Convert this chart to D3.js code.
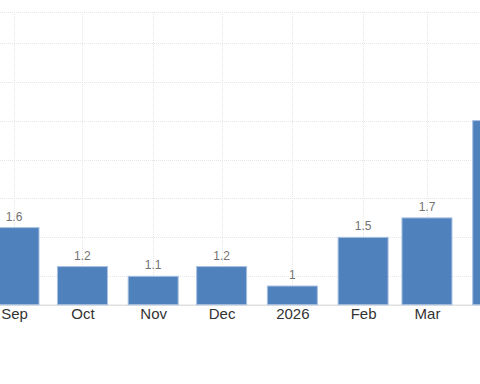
<!DOCTYPE html>
<html>
<head>
<meta charset="utf-8">
<script src="https://cdn.jsdelivr.net/npm/d3@7"></script>
<style>
  html, body { margin: 0; padding: 0; background: #fff; }
  svg { display: block; }
</style>
</head>
<body>
<svg id="chart" width="480" height="384"></svg>
<script>
const months = ["2025-09-01","2025-10-01","2025-11-01","2025-12-01","2026-01-01","2026-02-01","2026-03-01","2026-04-01"];
const values = [1.6, 1.2, 1.1, 1.2, 1.0, 1.5, 1.7, 2.7];
const valueLabels = ["1.6","1.2","1.1","1.2","1","1.5","1.7","2.7"];
const tickLabels = ["Sep","Oct","Nov","Dec","2026","Feb","Mar","Apr"];
const gridValues = [1.1, 1.5, 1.9, 2.3, 2.7, 3.1, 3.5];

const dates = months.map(d => new Date(d + "T00:00:00Z"));
const data = dates.map((d, i) => ({date: d, value: values[i], label: valueLabels[i], tick: tickLabels[i]}));

const svg = d3.select("#chart");
const plotTop = 12, plotBottom = 304.7, W = 480;

const x = d3.scaleUtc()
  .domain([new Date("2025-09-01T00:00:00Z"), new Date("2026-04-01T00:00:00Z")])
  .range([14, 497.7]);
const y = d3.scaleLinear()
  .domain([0.808, 3.816])
  .range([plotBottom, plotTop]);

const barW = 50;
const inView = d => x(d.date) > 10 && x(d.date) < W - 10;

// horizontal grid
const g = svg.append("g");
g.selectAll("line.h").data(gridValues.concat([y.domain()[1]])).join("line")
  .attr("x1", 0).attr("x2", W)
  .attr("y1", d => Math.round(y(d)) + 0.5).attr("y2", d => Math.round(y(d)) + 0.5)
  .attr("stroke", "#e6e6e6").attr("stroke-width", 1)
  .attr("stroke-dasharray", "1,1");

// vertical grid
g.selectAll("line.v").data(dates).join("line")
  .attr("x1", d => Math.round(x(d)) + 0.5).attr("x2", d => Math.round(x(d)) + 0.5)
  .attr("y1", plotTop).attr("y2", plotBottom)
  .attr("stroke", "#e6e6e6").attr("stroke-width", 1)
  .attr("stroke-dasharray", "1,1");

// baseline
svg.append("line")
  .attr("x1", 0).attr("x2", W)
  .attr("y1", plotBottom + 0.5).attr("y2", plotBottom + 0.5)
  .attr("stroke", "#e0e0e0").attr("stroke-width", 1.5);

// bars
svg.append("g").selectAll("rect").data(data).join("rect")
  .attr("x", d => x(d.date) - barW / 2)
  .attr("width", barW)
  .attr("y", d => y(d.value))
  .attr("height", d => plotBottom - y(d.value))
  .attr("fill", "#4f81bd")
  .attr("stroke", "#a9c1e2")
  .attr("stroke-width", 1);

// value labels
svg.append("g").selectAll("text").data(data.filter(inView)).join("text")
  .attr("x", d => x(d.date))
  .attr("y", d => y(d.value) - 7)
  .attr("text-anchor", "middle")
  .attr("font-family", "Liberation Sans, Arial, sans-serif")
  .attr("font-size", 12)
  .attr("fill", "#737373")
  .text(d => d.label);

// x axis labels
const shown = data.filter(inView);
const xAxis = d3.axisBottom(x)
  .tickValues(shown.map(d => d.date))
  .tickFormat((d, i) => shown[i].tick)
  .tickSize(0)
  .tickPadding(0);
const ax = svg.append("g").attr("transform", `translate(0,${plotBottom})`).call(xAxis);
ax.select(".domain").remove();
ax.selectAll("text")
  .attr("dy", null)
  .attr("y", 14.5)
  .attr("font-family", "Liberation Sans, Arial, sans-serif")
  .attr("font-size", 15)
  .attr("fill", "#333");
</script>
</body>
</html>
